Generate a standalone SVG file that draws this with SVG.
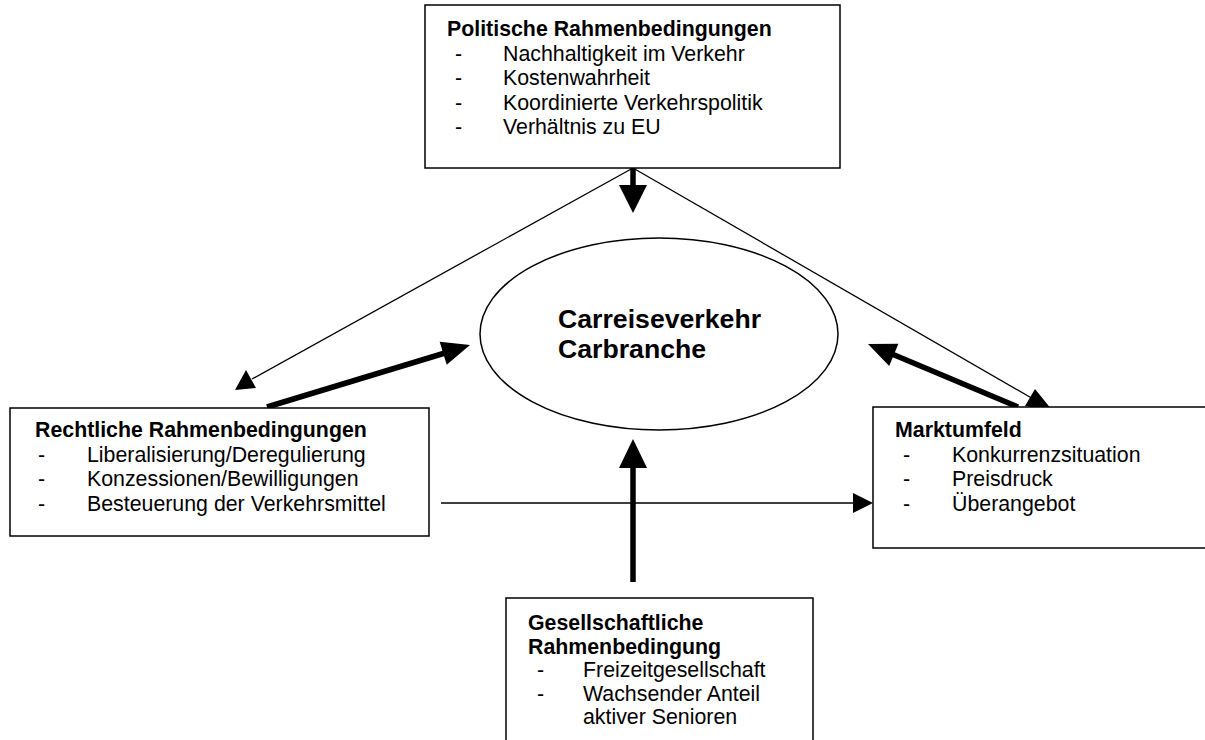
<svg xmlns="http://www.w3.org/2000/svg" width="1205" height="740" viewBox="0 0 1205 740">
<style>
.box{fill:#fff;stroke:#000;stroke-width:1.5}
.t{font-family:"Liberation Sans",Arial,sans-serif;font-size:21.33px;fill:#000}
.b{font-weight:bold}
.c{font-family:"Liberation Sans",Arial,sans-serif;font-size:26.67px;font-weight:bold;fill:#000}
.thin{stroke:#000;stroke-width:1.3;fill:none}
.thick{stroke:#000;stroke-width:5.5;fill:none}
.head{fill:#000}
</style>
<rect width="1205" height="740" fill="#fff"/>
<g id="connectors">
<line class="thin" x1="633" y1="168" x2="252" y2="379"/>
<polygon class="head" points="235,390 246,370 256,388"/>
<line class="thin" x1="633" y1="168" x2="1035" y2="400"/>
<polygon class="head" points="1052,410 1025,406 1035,389"/>
<line class="thick" x1="633" y1="168" x2="633" y2="188"/>
<polygon class="head" points="619,185 647,185 633,213"/>
<line class="thick" x1="267" y1="407" x2="445" y2="353"/>
<polygon class="head" points="470,345 446.7,364.7 439.7,341.7"/>
<line class="thick" x1="1018" y1="407" x2="892" y2="354"/>
<polygon class="head" points="868,344 898.4,343.7 889.2,365.9"/>
<line class="thick" x1="633" y1="582" x2="633" y2="465"/>
<polygon class="head" points="619,468 647,468 633,439"/>
<line class="thin" x1="441" y1="503" x2="856" y2="503"/>
<polygon class="head" points="873,503 853,493 853,513"/>
</g>
<g id="n-politisch">
<rect class="box" x="425" y="5" width="415" height="163"/>
<text class="t b" x="447" y="36">Politische Rahmenbedingungen</text>
<text class="t" x="455" y="60.5">-</text><text class="t" x="503" y="60.5">Nachhaltigkeit im Verkehr</text>
<text class="t" x="455" y="85">-</text><text class="t" x="503" y="85">Kostenwahrheit</text>
<text class="t" x="455" y="109.5">-</text><text class="t" x="503" y="109.5">Koordinierte Verkehrspolitik</text>
<text class="t" x="455" y="134">-</text><text class="t" x="503" y="134">Verhältnis zu EU</text>
</g>
<g id="n-carreise">
<ellipse cx="659" cy="334" rx="179" ry="96" fill="#fff" stroke="#000" stroke-width="1.5"/>
<text class="c" x="558" y="328">Carreiseverkehr</text>
<text class="c" x="558" y="358">Carbranche</text>
</g>
<g id="n-rechtlich">
<rect class="box" x="10" y="408" width="419" height="128"/>
<text class="t b" x="35" y="437">Rechtliche Rahmenbedingungen</text>
<text class="t" x="38" y="461.5">-</text><text class="t" x="87" y="461.5">Liberalisierung/Deregulierung</text>
<text class="t" x="38" y="486">-</text><text class="t" x="87" y="486">Konzessionen/Bewilligungen</text>
<text class="t" x="38" y="510.5">-</text><text class="t" x="87" y="510.5">Besteuerung der Verkehrsmittel</text>
</g>
<g id="n-markt">
<rect class="box" x="873" y="407" width="340" height="141"/>
<text class="t b" x="895" y="437">Marktumfeld</text>
<text class="t" x="903" y="461.5">-</text><text class="t" x="952" y="461.5">Konkurrenzsituation</text>
<text class="t" x="903" y="486">-</text><text class="t" x="952" y="486">Preisdruck</text>
<text class="t" x="903" y="510.5">-</text><text class="t" x="952" y="510.5">Überangebot</text>
</g>
<g id="n-gesellschaft">
<rect class="box" x="506" y="598" width="307" height="160"/>
<text class="t b" x="528" y="630">Gesellschaftliche</text>
<text class="t b" x="528" y="653.5">Rahmenbedingung</text>
<text class="t" x="537" y="677">-</text><text class="t" x="583" y="677">Freizeitgesellschaft</text>
<text class="t" x="537" y="700.5">-</text><text class="t" x="583" y="700.5">Wachsender Anteil</text>
<text class="t" x="583" y="724">aktiver Senioren</text>
</g>
</svg>
